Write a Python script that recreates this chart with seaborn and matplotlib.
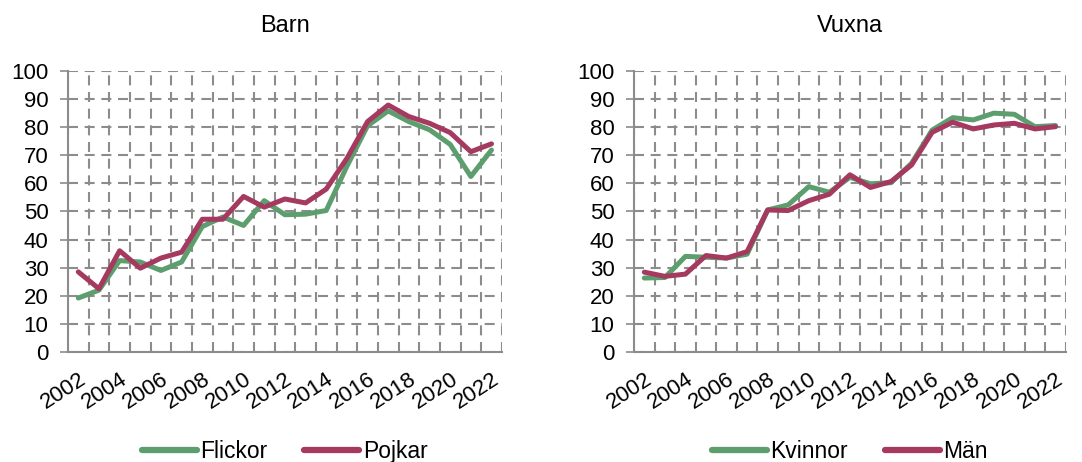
import numpy as np
import pandas as pd
import matplotlib
matplotlib.use("Agg")
import matplotlib.pyplot as plt
import seaborn as sns

years = list(range(2002, 2023))
flickor = [19.2, 22.0, 32.5, 32.0, 29.0, 32.0, 44.6, 48.0, 45.0, 53.8, 48.8, 49.0, 50.3,
           66.0, 80.4, 85.7, 81.9, 79.0, 73.8, 62.4, 71.8]
pojkar = [28.5, 22.5, 36.0, 29.8, 33.4, 35.5, 47.2, 47.2, 55.3, 51.5, 54.4, 53.0, 57.9,
          68.8, 81.9, 87.8, 83.7, 81.3, 78.0, 71.2, 74.0]
kvinnor = [26.3, 26.5, 34.0, 33.7, 33.4, 34.8, 50.5, 52.3, 58.8, 56.8, 62.1, 59.8, 60.2,
           67.1, 78.9, 83.3, 82.5, 84.9, 84.5, 80.1, 80.5]
man = [28.4, 26.9, 27.7, 34.3, 33.4, 35.7, 50.5, 50.3, 53.8, 56.1, 63.0, 58.5, 60.6,
       66.5, 78.1, 81.7, 79.3, 80.7, 81.3, 79.3, 80.1]
tick_years = list(range(2002, 2023, 2))
yticks = list(range(0, 101, 10))

green = "#5C9E6D"
pink = "#A6395F"
grid_c = "#8C8C8C"

sns.set_theme(style="white")
plt.rcParams["font.family"] = ["Liberation Sans", "DejaVu Sans"]
plt.rcParams["text.color"] = "black"
plt.rcParams["xtick.labelcolor"] = "black"
plt.rcParams["ytick.labelcolor"] = "black"

fig = plt.figure(figsize=(10.82, 4.62), dpi=100)
ax1 = fig.add_axes([0.0628, 0.238, 0.401, 0.609])
ax2 = fig.add_axes([0.586, 0.238, 0.399, 0.609])

panels = [
    (ax1, "Barn", ["Flickor", "Pojkar"], [flickor, pojkar]),
    (ax2, "Vuxna", ["Kvinnor", "Män"], [kvinnor, man]),
]

for ax, title, names, series in panels:
    df = pd.DataFrame({
        "År": years * 2,
        "Värde": series[0] + series[1],
        "Grupp": [names[0]] * len(years) + [names[1]] * len(years),
    })
    sns.lineplot(data=df, x="År", y="Värde", hue="Grupp", hue_order=names,
                 palette=[green, pink], linewidth=3.6, ax=ax, legend=True)
    ax.set_xlim(2001.5, 2022.5)
    ax.set_ylim(0, 100)
    ax.set_yticks(yticks)
    ax.set_xticks(tick_years)
    ax.set_xticks([y - 0.5 for y in years] + [2022.5], minor=True)
    ax.set_xticklabels([str(y) for y in tick_years], rotation=33, ha="right",
                       rotation_mode="anchor", fontsize=16, color="black")
    ax.tick_params(axis="y", labelsize=16, left=True, length=6, color=grid_c, width=1.2,
                   pad=8, labelcolor="black")
    ax.tick_params(axis="x", which="both", bottom=False, pad=6)
    ax.grid(False)
    ax.grid(True, axis="y", which="major", color=grid_c, linestyle=(0, (4.8, 3.2)), linewidth=1.5)
    ax.grid(True, axis="x", which="minor", color=grid_c, linestyle=(0, (4.8, 3.2)), linewidth=1.5)
    ax.set_axisbelow(True)
    for s in ["top", "right"]:
        ax.spines[s].set_visible(False)
    for s in ["left", "bottom"]:
        ax.spines[s].set_color(grid_c)
        ax.spines[s].set_linewidth(1.5)
    ax.set_xlabel("")
    ax.set_ylabel("")
    ax.set_title(title, fontsize=17, pad=28, color="black")
    leg = ax.legend(loc="upper center", bbox_to_anchor=(0.5, -0.28), ncol=2, frameon=False,
                    fontsize=16.5, handlelength=2.4, handletextpad=0.15, columnspacing=1.6,
                    borderaxespad=0)
    for t in leg.get_texts():
        t.set_color("black")
    for line in leg.get_lines():
        line.set_linewidth(4.5)
        line.set_solid_capstyle("round")

fig.savefig("out.png", dpi=100)
